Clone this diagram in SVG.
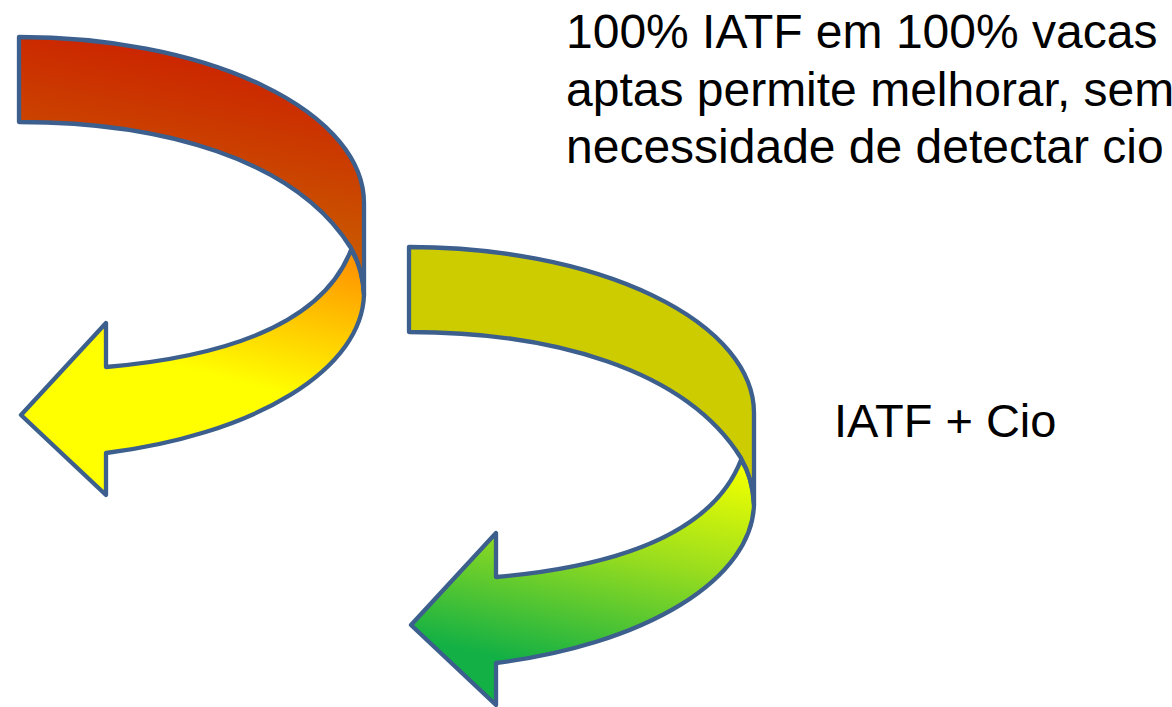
<svg xmlns="http://www.w3.org/2000/svg" width="1172" height="707" viewBox="0 0 1172 707">
<style>
.band{stroke:#3C5F8D;stroke-width:4.3;stroke-linejoin:round}
.txt{font-family:"Liberation Sans",Arial,sans-serif;fill:#000}
</style>
<defs>
<linearGradient id="redTop" gradientUnits="userSpaceOnUse" x1="260" y1="40" x2="210" y2="290">
<stop offset="0" stop-color="#CC1C00"/><stop offset="1" stop-color="#C96C00"/>
</linearGradient>
<linearGradient id="yelBot" gradientUnits="userSpaceOnUse" x1="345" y1="265" x2="300" y2="435">
<stop offset="0" stop-color="#FF9800"/><stop offset="0.8" stop-color="#FFFF00"/><stop offset="1" stop-color="#FFFF00"/>
</linearGradient>
<linearGradient id="grnBot" gradientUnits="userSpaceOnUse" x1="350" y1="262" x2="300" y2="490">
<stop offset="0" stop-color="#EEFF00"/><stop offset="0.45" stop-color="#99DD1E"/><stop offset="1" stop-color="#12B045"/>
</linearGradient>
<path id="lower" d="M351,250 C358,260 363,275 364,295 A345,166 0 0 1 106,453 L106,495 L21,415 L106,323 L106,367 C210,358 320,330 351,250 Z"/>
<path id="upper" d="M19,37 A345,166 0 0 1 364,203 L364,295 C363,275 358,260 351,248 C295,158 160,122 19,122 Z"/>
</defs>
<g id="arrow-red">
<use href="#lower" class="band" fill="url(#yelBot)"/>
<use href="#upper" class="band" fill="url(#redTop)"/>
</g>
<g id="arrow-green" transform="translate(390,210)">
<use href="#lower" class="band" fill="url(#grnBot)"/>
<use href="#upper" class="band" fill="#CCCC00"/>
</g>
<g id="connectors"/>
<g id="label-top">
<text class="txt" font-size="48" x="566" y="48">100% IATF em 100% vacas</text>
<text class="txt" font-size="48" x="566" y="106">aptas permite melhorar, sem</text>
<text class="txt" font-size="48" x="566" y="163">necessidade de detectar cio</text>
</g>
<g id="label-right">
<text class="txt" font-size="47" x="834" y="437">IATF + Cio</text>
</g>
</svg>
